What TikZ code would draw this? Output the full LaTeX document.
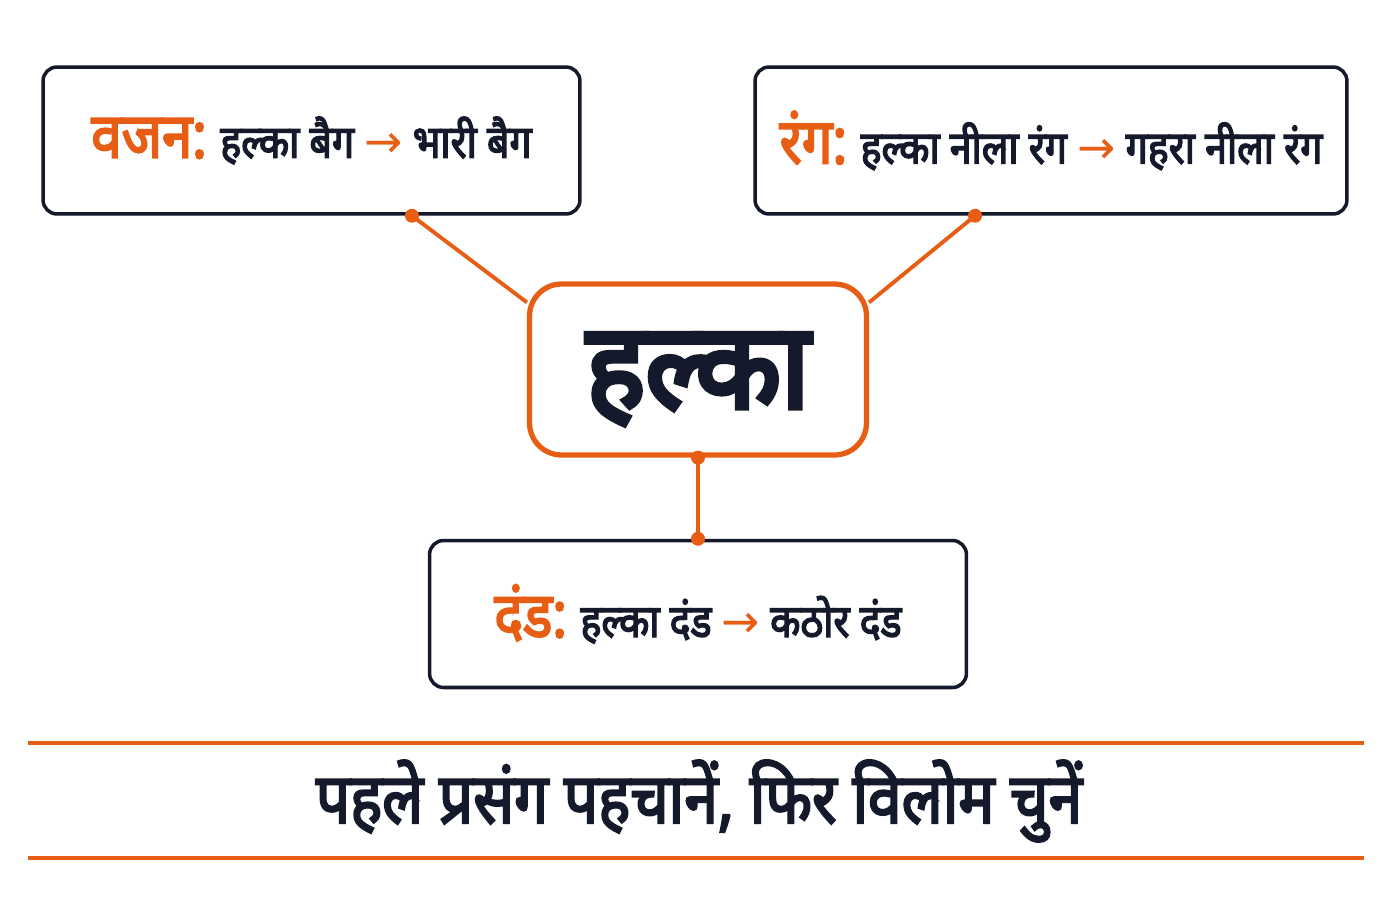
\documentclass[tikz,border=0pt]{standalone}
\usepackage{fontspec}
\newfontfamily\hindi[Script=Devanagari, FakeStretch=0.86, FakeBold=3]{Noto Sans}
\newfontfamily\hindititle[Script=Devanagari, FakeStretch=0.93, FakeBold=4.5]{Noto Sans}
\newfontfamily\arrowfont{DejaVu Sans}
\definecolor{accent}{RGB}{232,93,20}
\definecolor{ink}{RGB}{20,26,43}
\newcommand{\sensearrow}{\textcolor{accent}{\arrowfont →}}
\newcommand{\sensename}[1]{\textcolor{accent}{\fontsize{36}{40}\selectfont #1}}
\tikzset{
	sensebox/.style = {draw = ink, line width = 2pt, rounded corners = 0.28cm,
		fill = white, minimum height = 2.94cm, inner sep = 0pt, text = ink,
		font = \hindi\fontsize{26}{30}\selectfont},
	link/.style = {accent, line width = 2.2pt},
	pin/.style = {fill = accent, accent, circle, inner sep = 0pt, minimum size = 0.28cm}
}
\begin{document}
\begin{tikzpicture}[x = 0.02cm, y = -0.02cm]

	\useasboundingbox [fill = white] (0, 0) rectangle (1400, 900);

	% The word

	\node [draw = accent, line width = 3pt, rounded corners = 0.64cm, fill = white,
		minimum width = 6.74cm, minimum height = 3.42cm, text = ink,
		text height = 1.6cm, text depth = 0.06cm,
		font = \hindititle\fontsize{68}{74}\selectfont] (halka) at (698, 369.5) {हल्का};

	% The three senses

	\node [sensebox, minimum width = 10.74cm] (wajan) at (311.5, 140.5)
		{\sensename{वजन:} हल्का बैग \sensearrow{} भारी बैग};
	\node [sensebox, minimum width = 11.84cm] (rang) at (1051, 140.5)
		{\sensename{रंग:} हल्का नीला रंग \sensearrow{} गहरा नीला रंग};
	\node [sensebox, minimum width = 10.74cm] (dand) at (698, 614)
		{\sensename{दंड:} हल्का दंड \sensearrow{} कठोर दंड};

	% Connectors

	\coordinate (wajanpin) at ([xshift = 2.01cm] wajan.south);
	\coordinate (rangpin) at ([xshift = -1.52cm] rang.south);
	\coordinate (halkaleft) at ([yshift = -0.42cm] halka.north west);
	\coordinate (halkaright) at ([yshift = -0.42cm] halka.north east);

	\draw [link] (wajanpin) -- (halkaleft);
	\draw [link] (rangpin) -- (halkaright);
	\draw [link] (halka.south) -- (dand.north);

	\node [pin] at (wajanpin) {};
	\node [pin] at (rangpin) {};
	\node [pin] at (halka.south) {};
	\node [pin] at (dand.north) {};

	% Hint between the rules

	\coordinate (ruletopleft) at (28, 743);
	\coordinate (ruletopright) at (1364, 743);
	\coordinate (rulebotleft) at (28, 858);
	\coordinate (rulebotright) at (1364, 858);
	\draw [link, line width = 2pt] (ruletopleft) -- (ruletopright);
	\draw [link, line width = 2pt] (rulebotleft) -- (rulebotright);

	\node [ink, font = \hindi\fontsize{40}{46}\selectfont] (hint) at (699, 801)
		{पहले प्रसंग पहचानें, फिर विलोम चुनें};

\end{tikzpicture}
\end{document}
